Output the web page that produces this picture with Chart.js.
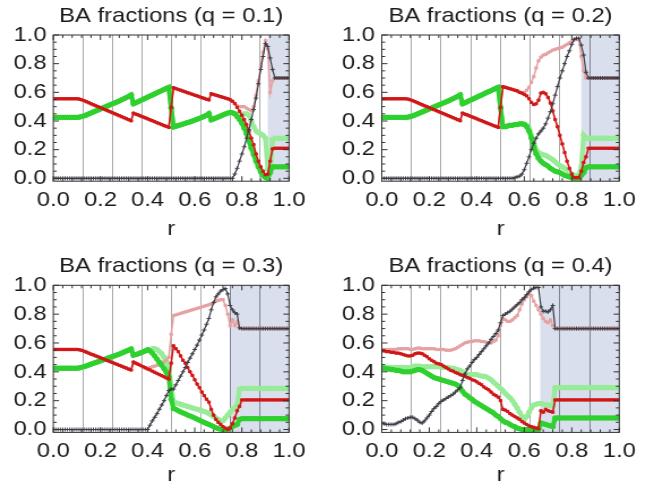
<!DOCTYPE html>
<html>
<head>
<meta charset="utf-8">
<script src="https://cdn.jsdelivr.net/npm/chart.js@4.4.1/dist/chart.umd.min.js"></script>
<style>
  html, body { margin: 0; padding: 0; background: #fff; }
  body { width: 657px; height: 498px; position: relative; overflow: hidden; }
  .panel { position: absolute; width: 290px; transform: scaleX(1.132); transform-origin: 0 0; }
</style>
</head>
<body>
<div class="panel" style="left:0;top:0;height:248px"><canvas id="c0"></canvas></div>
<div class="panel" style="left:328px;top:0;height:248px"><canvas id="c1"></canvas></div>
<div class="panel" style="left:0;top:248px;height:250px"><canvas id="c2"></canvas></div>
<div class="panel" style="left:328px;top:248px;height:250px"><canvas id="c3"></canvas></div>
<script>
const titles = ["BA fractions (q = 0.1)", "BA fractions (q = 0.2)", "BA fractions (q = 0.3)", "BA fractions (q = 0.4)"];
const shadeFrom = [0.91, 0.84, 0.75, 0.667];
const yTicks = [0, 0.2, 0.4, 0.6, 0.8, 1.0];
const xLabelTicks = [0, 0.2, 0.4, 0.6, 0.8, 1.0];
const gridR = [0.125, 0.25, 0.375, 0.5, 0.625, 0.75, 0.875];

const r = [
  0.00, 0.01, 0.02, 0.03, 0.04, 0.05, 0.06, 0.07, 0.08, 0.09,
  0.10, 0.11, 0.12, 0.13, 0.14, 0.15, 0.16, 0.17, 0.18, 0.19,
  0.20, 0.21, 0.22, 0.23, 0.24, 0.25, 0.26, 0.27, 0.28, 0.29,
  0.30, 0.31, 0.32, 0.33, 0.34, 0.35, 0.36, 0.37, 0.38, 0.39,
  0.40, 0.41, 0.42, 0.43, 0.44, 0.45, 0.46, 0.47, 0.48, 0.49,
  0.50, 0.51, 0.52, 0.53, 0.54, 0.55, 0.56, 0.57, 0.58, 0.59,
  0.60, 0.61, 0.62, 0.63, 0.64, 0.65, 0.66, 0.67, 0.68, 0.69,
  0.70, 0.71, 0.72, 0.73, 0.74, 0.75, 0.76, 0.77, 0.78, 0.79,
  0.80, 0.81, 0.82, 0.83, 0.84, 0.85, 0.86, 0.87, 0.88, 0.89,
  0.90, 0.91, 0.92, 0.93, 0.94, 0.95, 0.96, 0.97, 0.98, 0.99,
  1.00
];

// q = 0.1
const red1 = [
  0.555, 0.555, 0.555, 0.555, 0.555, 0.555, 0.555, 0.555, 0.555, 0.555,
  0.555, 0.553, 0.548, 0.542, 0.535, 0.528, 0.520, 0.513, 0.506, 0.500,
  0.493, 0.486, 0.479, 0.472, 0.465, 0.458, 0.451, 0.444, 0.437, 0.430,
  0.423, 0.416, 0.409, 0.402, 0.455, 0.448, 0.442, 0.435, 0.428, 0.422,
  0.415, 0.408, 0.402, 0.395, 0.388, 0.382, 0.375, 0.368, 0.362, 0.355,
  0.495, 0.632, 0.626, 0.620, 0.615, 0.609, 0.603, 0.597, 0.592, 0.586,
  0.580, 0.575, 0.569, 0.563, 0.558, 0.552, 0.547, 0.590, 0.585, 0.580,
  0.575, 0.570, 0.565, 0.560, 0.555, 0.548, 0.538, 0.522, 0.495, 0.468,
  0.440, 0.410, 0.375, 0.330, 0.280, 0.235, 0.170, 0.120, 0.080, 0.050,
  0.025, 0.030, 0.120, 0.205, 0.210, 0.210, 0.210, 0.210, 0.210, 0.210,
  0.210
];
const pink1 = [
  0.555, 0.555, 0.555, 0.555, 0.555, 0.555, 0.555, 0.555, 0.555, 0.555,
  0.555, 0.553, 0.548, 0.542, 0.535, 0.528, 0.520, 0.513, 0.506, 0.500,
  0.493, 0.486, 0.479, 0.472, 0.465, 0.458, 0.451, 0.444, 0.437, 0.430,
  0.423, 0.416, 0.409, 0.402, 0.455, 0.448, 0.442, 0.435, 0.428, 0.422,
  0.415, 0.408, 0.402, 0.395, 0.388, 0.382, 0.375, 0.368, 0.362, 0.355,
  0.495, 0.632, 0.626, 0.620, 0.615, 0.609, 0.603, 0.597, 0.592, 0.586,
  0.580, 0.575, 0.569, 0.563, 0.558, 0.552, 0.547, 0.590, 0.585, 0.580,
  0.575, 0.570, 0.565, 0.560, 0.555, 0.548, 0.538, 0.522, 0.505, 0.500,
  0.500, 0.500, 0.490, 0.480, 0.470, 0.500, 0.580, 0.680, 0.780, 0.880,
  0.960, 0.900, 0.600, 0.680, 0.700, 0.700, 0.700, 0.700, 0.700, 0.700,
  0.700
];
const green1 = [
  0.425, 0.425, 0.425, 0.425, 0.425, 0.425, 0.425, 0.425, 0.425, 0.425,
  0.425, 0.427, 0.431, 0.436, 0.442, 0.449, 0.456, 0.463, 0.470, 0.477,
  0.484, 0.491, 0.498, 0.505, 0.512, 0.519, 0.526, 0.533, 0.540, 0.548,
  0.556, 0.564, 0.572, 0.582, 0.520, 0.527, 0.535, 0.543, 0.550, 0.558,
  0.566, 0.574, 0.581, 0.589, 0.597, 0.605, 0.612, 0.620, 0.628, 0.635,
  0.490, 0.358, 0.363, 0.368, 0.373, 0.378, 0.384, 0.389, 0.394, 0.400,
  0.406, 0.412, 0.418, 0.425, 0.432, 0.440, 0.452, 0.408, 0.415, 0.421,
  0.428, 0.435, 0.442, 0.449, 0.455, 0.460, 0.457, 0.450, 0.430, 0.410,
  0.385, 0.350, 0.310, 0.260, 0.210, 0.165, 0.120, 0.080, 0.045, 0.020,
  0.005, 0, 0.040, 0.080, 0.080, 0.080, 0.080, 0.080, 0.080, 0.080,
  0.080
];
const lightGreen1 = [
  0.425, 0.425, 0.425, 0.425, 0.425, 0.425, 0.425, 0.425, 0.425, 0.425,
  0.425, 0.427, 0.431, 0.436, 0.442, 0.449, 0.456, 0.463, 0.470, 0.477,
  0.484, 0.491, 0.498, 0.505, 0.512, 0.519, 0.526, 0.533, 0.540, 0.548,
  0.556, 0.564, 0.572, 0.582, 0.520, 0.527, 0.535, 0.543, 0.550, 0.558,
  0.566, 0.574, 0.581, 0.589, 0.597, 0.605, 0.612, 0.620, 0.628, 0.635,
  0.490, 0.358, 0.363, 0.368, 0.373, 0.378, 0.384, 0.389, 0.394, 0.400,
  0.406, 0.412, 0.418, 0.425, 0.432, 0.440, 0.452, 0.408, 0.415, 0.421,
  0.428, 0.435, 0.442, 0.449, 0.455, 0.460, 0.457, 0.450, 0.440, 0.440,
  0.445, 0.450, 0.450, 0.440, 0.400, 0.360, 0.330, 0.320, 0.310, 0.300,
  0.280, 0.060, 0.050, 0.270, 0.280, 0.280, 0.280, 0.280, 0.280, 0.280,
  0.280
];
const black1 = [
  0, 0, 0, 0, 0, 0, 0, 0, 0, 0,
  0, 0, 0, 0, 0, 0, 0, 0, 0, 0,
  0, 0, 0, 0, 0, 0, 0, 0, 0, 0,
  0, 0, 0, 0, 0, 0, 0, 0, 0, 0,
  0, 0, 0, 0, 0, 0, 0, 0, 0, 0,
  0, 0, 0, 0, 0, 0, 0, 0, 0, 0,
  0, 0, 0, 0, 0, 0, 0, 0, 0, 0,
  0, 0, 0, 0, 0, 0, 0, 0.030, 0.070, 0.120,
  0.170, 0.220, 0.280, 0.340, 0.410, 0.480, 0.560, 0.660, 0.760, 0.850,
  0.940, 0.920, 0.840, 0.760, 0.700, 0.700, 0.700, 0.700, 0.700, 0.700,
  0.700
];

// q = 0.2
const red2 = [
  0.555, 0.555, 0.555, 0.555, 0.555, 0.555, 0.555, 0.555, 0.555, 0.555,
  0.555, 0.553, 0.548, 0.542, 0.535, 0.528, 0.520, 0.513, 0.506, 0.500,
  0.493, 0.486, 0.479, 0.472, 0.465, 0.458, 0.451, 0.444, 0.437, 0.430,
  0.423, 0.416, 0.409, 0.402, 0.455, 0.448, 0.442, 0.435, 0.428, 0.422,
  0.415, 0.408, 0.402, 0.395, 0.388, 0.382, 0.375, 0.368, 0.362, 0.355,
  0.495, 0.640, 0.635, 0.630, 0.625, 0.620, 0.615, 0.610, 0.600, 0.595,
  0.585, 0.575, 0.555, 0.530, 0.515, 0.520, 0.545, 0.595, 0.600, 0.590,
  0.565, 0.525, 0.470, 0.410, 0.360, 0.300, 0.240, 0.180, 0.120, 0.070,
  0.030, 0.005, 0.005, 0.005, 0.050, 0.110, 0.150, 0.210, 0.210, 0.210,
  0.210, 0.210, 0.210, 0.210, 0.210, 0.210, 0.210, 0.210, 0.210, 0.210,
  0.210
];
const pink2 = [
  0.555, 0.555, 0.555, 0.555, 0.555, 0.555, 0.555, 0.555, 0.555, 0.555,
  0.555, 0.553, 0.548, 0.542, 0.535, 0.528, 0.520, 0.513, 0.506, 0.500,
  0.493, 0.486, 0.479, 0.472, 0.465, 0.458, 0.451, 0.444, 0.437, 0.430,
  0.423, 0.416, 0.409, 0.402, 0.455, 0.448, 0.442, 0.435, 0.428, 0.422,
  0.415, 0.408, 0.402, 0.395, 0.388, 0.382, 0.375, 0.368, 0.362, 0.355,
  0.495, 0.640, 0.635, 0.630, 0.625, 0.620, 0.615, 0.610, 0.600, 0.595,
  0.600, 0.615, 0.635, 0.670, 0.710, 0.770, 0.820, 0.845, 0.860, 0.865,
  0.875, 0.885, 0.895, 0.900, 0.905, 0.910, 0.915, 0.925, 0.935, 0.945,
  0.955, 0.965, 0.970, 0.965, 0.850, 0.750, 0.700, 0.700, 0.700, 0.700,
  0.700, 0.700, 0.700, 0.700, 0.700, 0.700, 0.700, 0.700, 0.700, 0.700,
  0.700
];
const green2 = [
  0.425, 0.425, 0.425, 0.425, 0.425, 0.425, 0.425, 0.425, 0.425, 0.425,
  0.425, 0.427, 0.431, 0.436, 0.442, 0.449, 0.456, 0.463, 0.470, 0.477,
  0.484, 0.491, 0.498, 0.505, 0.512, 0.519, 0.526, 0.533, 0.540, 0.548,
  0.556, 0.564, 0.572, 0.582, 0.520, 0.527, 0.535, 0.543, 0.550, 0.558,
  0.566, 0.574, 0.581, 0.589, 0.597, 0.605, 0.612, 0.620, 0.628, 0.635,
  0.490, 0.360, 0.360, 0.365, 0.370, 0.370, 0.375, 0.375, 0.380, 0.380,
  0.375, 0.360, 0.330, 0.280, 0.220, 0.170, 0.140, 0.120, 0.105, 0.095,
  0.085, 0.070, 0.060, 0.050, 0.045, 0.040, 0.030, 0.020, 0.015, 0.010,
  0.005, 0, 0, 0, 0.020, 0.040, 0.075, 0.080, 0.080, 0.080,
  0.080, 0.080, 0.080, 0.080, 0.080, 0.080, 0.080, 0.080, 0.080, 0.080,
  0.080
];
const lightGreen2 = [
  0.425, 0.425, 0.425, 0.425, 0.425, 0.425, 0.425, 0.425, 0.425, 0.425,
  0.425, 0.427, 0.431, 0.436, 0.442, 0.449, 0.456, 0.463, 0.470, 0.477,
  0.484, 0.491, 0.498, 0.505, 0.512, 0.519, 0.526, 0.533, 0.540, 0.548,
  0.556, 0.564, 0.572, 0.582, 0.520, 0.527, 0.535, 0.543, 0.550, 0.558,
  0.566, 0.574, 0.581, 0.589, 0.597, 0.605, 0.612, 0.620, 0.628, 0.635,
  0.490, 0.360, 0.360, 0.365, 0.370, 0.370, 0.375, 0.375, 0.380, 0.380,
  0.380, 0.370, 0.350, 0.300, 0.250, 0.200, 0.180, 0.170, 0.165, 0.160,
  0.150, 0.140, 0.130, 0.115, 0.100, 0.090, 0.080, 0.070, 0.055, 0.040,
  0.030, 0.020, 0.020, 0.025, 0.080, 0.300, 0.280, 0.280, 0.280, 0.280,
  0.280, 0.280, 0.280, 0.280, 0.280, 0.280, 0.280, 0.280, 0.280, 0.280,
  0.280
];
const black2 = [
  0, 0, 0, 0, 0, 0, 0, 0, 0, 0,
  0, 0, 0, 0, 0, 0, 0, 0, 0, 0,
  0, 0, 0, 0, 0, 0, 0, 0, 0, 0,
  0, 0, 0, 0, 0, 0, 0, 0, 0, 0,
  0, 0, 0, 0, 0, 0, 0, 0, 0, 0,
  0, 0, 0, 0, 0, 0, 0.005, 0.010, 0.015, 0.030,
  0.060, 0.105, 0.150, 0.200, 0.245, 0.280, 0.310, 0.330, 0.350, 0.380,
  0.420, 0.465, 0.520, 0.580, 0.640, 0.700, 0.750, 0.800, 0.850, 0.890,
  0.935, 0.970, 0.977, 0.977, 0.930, 0.860, 0.740, 0.700, 0.700, 0.700,
  0.700, 0.700, 0.700, 0.700, 0.700, 0.700, 0.700, 0.700, 0.700, 0.700,
  0.700
];

// q = 0.3
const red3 = [
  0.555, 0.555, 0.555, 0.555, 0.555, 0.555, 0.555, 0.555, 0.555, 0.555,
  0.555, 0.553, 0.549, 0.543, 0.537, 0.530, 0.523, 0.517, 0.510, 0.504,
  0.497, 0.491, 0.484, 0.478, 0.471, 0.465, 0.458, 0.452, 0.445, 0.439,
  0.432, 0.426, 0.419, 0.413, 0.468, 0.460, 0.452, 0.444, 0.436, 0.428,
  0.420, 0.413, 0.405, 0.397, 0.389, 0.381, 0.373, 0.365, 0.357, 0.350,
  0.460, 0.580, 0.560, 0.540, 0.510, 0.480, 0.460, 0.430, 0.400, 0.375,
  0.345, 0.315, 0.290, 0.260, 0.235, 0.210, 0.190, 0.140, 0.100, 0.070,
  0.050, 0.035, 0.020, 0.010, 0, 0.010, 0.040, 0.080, 0.130, 0.160,
  0.205, 0.205, 0.205, 0.205, 0.205, 0.205, 0.205, 0.205, 0.205, 0.205,
  0.205, 0.205, 0.205, 0.205, 0.205, 0.205, 0.205, 0.205, 0.205, 0.205,
  0.205
];
const pink3 = [
  0.555, 0.555, 0.555, 0.555, 0.555, 0.555, 0.555, 0.555, 0.555, 0.555,
  0.555, 0.553, 0.549, 0.543, 0.537, 0.530, 0.523, 0.517, 0.510, 0.504,
  0.497, 0.491, 0.484, 0.478, 0.471, 0.465, 0.458, 0.452, 0.445, 0.439,
  0.432, 0.426, 0.419, 0.413, 0.468, 0.460, 0.452, 0.444, 0.436, 0.428,
  0.420, 0.430, 0.435, 0.440, 0.445, 0.450, 0.460, 0.470, 0.480, 0.500,
  0.660, 0.790, 0.795, 0.800, 0.805, 0.810, 0.815, 0.820, 0.825, 0.830,
  0.835, 0.840, 0.845, 0.850, 0.855, 0.860, 0.865, 0.870, 0.880, 0.890,
  0.895, 0.900, 0.900, 0.860, 0.800, 0.720, 0.760, 0.720, 0.750, 0.700,
  0.700, 0.700, 0.700, 0.700, 0.700, 0.700, 0.700, 0.700, 0.700, 0.700,
  0.700, 0.700, 0.700, 0.700, 0.700, 0.700, 0.700, 0.700, 0.700, 0.700,
  0.700
];
const green3 = [
  0.425, 0.425, 0.425, 0.425, 0.425, 0.425, 0.425, 0.425, 0.425, 0.425,
  0.425, 0.427, 0.431, 0.436, 0.441, 0.447, 0.453, 0.459, 0.465, 0.470,
  0.476, 0.482, 0.488, 0.494, 0.500, 0.505, 0.511, 0.517, 0.523, 0.530,
  0.537, 0.544, 0.551, 0.558, 0.515, 0.520, 0.525, 0.532, 0.538, 0.545,
  0.553, 0.545, 0.530, 0.510, 0.488, 0.466, 0.445, 0.422, 0.395, 0.365,
  0.210, 0.145, 0.140, 0.130, 0.122, 0.115, 0.108, 0.100, 0.094, 0.087,
  0.080, 0.072, 0.064, 0.056, 0.049, 0.042, 0.035, 0.028, 0.020, 0.012,
  0.006, 0.002, 0, 0, 0, 0.010, 0.020, 0.030, 0.035, 0.070,
  0.075, 0.075, 0.075, 0.075, 0.075, 0.075, 0.075, 0.075, 0.075, 0.075,
  0.075, 0.075, 0.075, 0.075, 0.075, 0.075, 0.075, 0.075, 0.075, 0.075,
  0.075
];
const lightGreen3 = [
  0.425, 0.425, 0.425, 0.425, 0.425, 0.425, 0.425, 0.425, 0.425, 0.425,
  0.425, 0.427, 0.431, 0.436, 0.441, 0.447, 0.453, 0.459, 0.465, 0.470,
  0.476, 0.482, 0.488, 0.494, 0.500, 0.505, 0.511, 0.517, 0.523, 0.530,
  0.537, 0.544, 0.551, 0.558, 0.515, 0.520, 0.525, 0.532, 0.538, 0.545,
  0.553, 0.555, 0.560, 0.560, 0.555, 0.540, 0.525, 0.500, 0.470, 0.430,
  0.300, 0.190, 0.185, 0.180, 0.175, 0.170, 0.165, 0.160, 0.155, 0.150,
  0.145, 0.140, 0.135, 0.130, 0.125, 0.120, 0.110, 0.100, 0.090, 0.080,
  0.070, 0.060, 0.060, 0.080, 0.100, 0.120, 0.140, 0.150, 0.170, 0.280,
  0.285, 0.285, 0.285, 0.285, 0.285, 0.285, 0.285, 0.285, 0.285, 0.285,
  0.285, 0.285, 0.285, 0.285, 0.285, 0.285, 0.285, 0.285, 0.285, 0.285,
  0.285
];
const black3 = [
  0, 0, 0, 0, 0, 0, 0, 0, 0, 0,
  0, 0, 0, 0, 0, 0, 0, 0, 0, 0,
  0, 0, 0, 0, 0, 0, 0, 0, 0, 0,
  0, 0, 0, 0, 0, 0, 0, 0, 0, 0,
  0, 0.030, 0.060, 0.085, 0.110, 0.140, 0.170, 0.200, 0.235, 0.270,
  0.280, 0.280, 0.310, 0.340, 0.370, 0.400, 0.430, 0.465, 0.495, 0.525,
  0.555, 0.585, 0.620, 0.655, 0.690, 0.730, 0.770, 0.830, 0.880, 0.920,
  0.940, 0.960, 0.970, 0.977, 0.940, 0.860, 0.830, 0.810, 0.800, 0.705,
  0.700, 0.700, 0.700, 0.700, 0.700, 0.700, 0.700, 0.700, 0.700, 0.700,
  0.700, 0.700, 0.700, 0.700, 0.700, 0.700, 0.700, 0.700, 0.700, 0.700,
  0.700
];

// q = 0.4
const red4 = [
  0.545, 0.545, 0.540, 0.540, 0.535, 0.535, 0.530, 0.530, 0.525, 0.520,
  0.515, 0.510, 0.510, 0.515, 0.525, 0.530, 0.530, 0.525, 0.515, 0.505,
  0.490, 0.480, 0.470, 0.460, 0.455, 0.450, 0.440, 0.430, 0.420, 0.410,
  0.405, 0.395, 0.390, 0.380, 0.375, 0.370, 0.360, 0.355, 0.345, 0.340,
  0.330, 0.320, 0.310, 0.295, 0.285, 0.275, 0.260, 0.245, 0.235, 0.225,
  0.200, 0.140, 0.135, 0.125, 0.110, 0.100, 0.090, 0.080, 0.070, 0.055,
  0.045, 0.035, 0.025, 0.020, 0.015, 0.010, 0.005, 0.130, 0.120, 0.140,
  0.130, 0.125, 0.120, 0.205, 0.205, 0.205, 0.205, 0.205, 0.205, 0.205,
  0.205, 0.205, 0.205, 0.205, 0.205, 0.205, 0.205, 0.205, 0.205, 0.205,
  0.205, 0.205, 0.205, 0.205, 0.205, 0.205, 0.205, 0.205, 0.205, 0.205,
  0.205
];
const pink4 = [
  0.555, 0.555, 0.555, 0.555, 0.555, 0.555, 0.555, 0.560, 0.560, 0.560,
  0.560, 0.560, 0.555, 0.555, 0.560, 0.565, 0.565, 0.560, 0.560, 0.560,
  0.560, 0.560, 0.560, 0.555, 0.555, 0.555, 0.555, 0.550, 0.550, 0.550,
  0.555, 0.560, 0.570, 0.580, 0.590, 0.600, 0.605, 0.610, 0.610, 0.615,
  0.615, 0.615, 0.610, 0.610, 0.605, 0.600, 0.600, 0.610, 0.620, 0.650,
  0.720, 0.770, 0.760, 0.750, 0.750, 0.760, 0.775, 0.790, 0.830, 0.870,
  0.900, 0.920, 0.940, 0.930, 0.890, 0.860, 0.830, 0.800, 0.770, 0.750,
  0.740, 0.760, 0.720, 0.700, 0.700, 0.700, 0.700, 0.700, 0.700, 0.700,
  0.700, 0.700, 0.700, 0.700, 0.700, 0.700, 0.700, 0.700, 0.700, 0.700,
  0.700, 0.700, 0.700, 0.700, 0.700, 0.700, 0.700, 0.700, 0.700, 0.700,
  0.700
];
const green4 = [
  0.425, 0.425, 0.420, 0.420, 0.415, 0.415, 0.410, 0.410, 0.405, 0.400,
  0.400, 0.400, 0.400, 0.405, 0.410, 0.415, 0.415, 0.410, 0.400, 0.390,
  0.380, 0.370, 0.360, 0.355, 0.350, 0.345, 0.340, 0.335, 0.330, 0.325,
  0.320, 0.315, 0.305, 0.290, 0.265, 0.245, 0.235, 0.220, 0.210, 0.195,
  0.185, 0.175, 0.165, 0.155, 0.145, 0.135, 0.125, 0.115, 0.100, 0.090,
  0.075, 0.060, 0.050, 0.045, 0.035, 0.025, 0.020, 0.010, 0.005, 0,
  0, 0, 0, 0, 0, 0, 0, 0.045, 0.040, 0.035,
  0.030, 0.025, 0.020, 0.080, 0.080, 0.080, 0.080, 0.080, 0.080, 0.080,
  0.080, 0.080, 0.080, 0.080, 0.080, 0.080, 0.080, 0.080, 0.080, 0.080,
  0.080, 0.080, 0.080, 0.080, 0.080, 0.080, 0.080, 0.080, 0.080, 0.080,
  0.080
];
const lightGreen4 = [
  0.430, 0.430, 0.430, 0.430, 0.430, 0.430, 0.430, 0.430, 0.430, 0.430,
  0.430, 0.430, 0.430, 0.435, 0.440, 0.440, 0.440, 0.435, 0.435, 0.435,
  0.435, 0.435, 0.435, 0.435, 0.435, 0.435, 0.430, 0.430, 0.430, 0.425,
  0.425, 0.420, 0.415, 0.410, 0.400, 0.390, 0.385, 0.380, 0.380, 0.380,
  0.380, 0.375, 0.370, 0.370, 0.365, 0.355, 0.345, 0.330, 0.315, 0.300,
  0.285, 0.270, 0.250, 0.235, 0.220, 0.200, 0.175, 0.150, 0.120, 0.090,
  0.070, 0.090, 0.120, 0.150, 0.170, 0.175, 0.180, 0.180, 0.175, 0.170,
  0.170, 0.165, 0.165, 0.290, 0.290, 0.290, 0.290, 0.290, 0.290, 0.290,
  0.290, 0.290, 0.290, 0.290, 0.290, 0.290, 0.290, 0.290, 0.290, 0.290,
  0.290, 0.290, 0.290, 0.290, 0.290, 0.290, 0.290, 0.290, 0.290, 0.290,
  0.290
];
const black4 = [
  0.040, 0.040, 0.035, 0.035, 0.035, 0.035, 0.040, 0.050, 0.055, 0.065,
  0.075, 0.080, 0.085, 0.085, 0.075, 0.065, 0.050, 0.045, 0.060, 0.080,
  0.100, 0.125, 0.145, 0.160, 0.180, 0.195, 0.205, 0.215, 0.225, 0.235,
  0.245, 0.260, 0.275, 0.290, 0.340, 0.385, 0.420, 0.440, 0.465, 0.485,
  0.500, 0.520, 0.540, 0.560, 0.580, 0.600, 0.625, 0.645, 0.665, 0.690,
  0.740, 0.790, 0.800, 0.810, 0.820, 0.835, 0.850, 0.865, 0.880, 0.900,
  0.915, 0.935, 0.955, 0.970, 0.980, 0.985, 0.985, 0.850, 0.820, 0.820,
  0.815, 0.830, 0.860, 0.700, 0.700, 0.700, 0.700, 0.700, 0.700, 0.700,
  0.700, 0.700, 0.700, 0.700, 0.700, 0.700, 0.700, 0.700, 0.700, 0.700,
  0.700, 0.700, 0.700, 0.700, 0.700, 0.700, 0.700, 0.700, 0.700, 0.700,
  0.700
];

const FONT = "'Liberation Sans', Arial, Helvetica, sans-serif";
const INK = "#1a1a1a";

// plot-box geometry for each panel (unscaled canvas px)
const boxes = [
  { yw: 47.1, right: 34.7, tTop: 3.4, tBot: 6.4, xh: 66.8, xPad: 6, rBot: 6.6 },
  { yw: 47.5, right: 32.7, tTop: 3.4, tBot: 6.4, xh: 66.8, xPad: 6, rBot: 6.6 },
  { yw: 47.1, right: 34.7, tTop: 5.4, tBot: 6.7, xh: 65.6, xPad: 6, rBot: 9.7 },
  { yw: 47.5, right: 32.7, tTop: 5.4, tBot: 6.7, xh: 65.6, xPad: 6, rBot: 9.7 },
];

const seriesSets = [
  { red: red1, pink: pink1, green: green1, lightGreen: lightGreen1, black: black1 },
  { red: red2, pink: pink2, green: green2, lightGreen: lightGreen2, black: black2 },
  { red: red3, pink: pink3, green: green3, lightGreen: lightGreen3, black: black3 },
  { red: red4, pink: pink4, green: green4, lightGreen: lightGreen4, black: black4 },
];

// shaded band, frame and inward frame ticks
const framePlugin = {
  id: "frame",
  beforeDraw(chart, args, opts) {
    const { ctx, chartArea: a, scales } = chart;
    const sx = scales.x.getPixelForValue(opts.shadeFrom);
    ctx.save();
    ctx.fillStyle = "#d9dfed";
    ctx.fillRect(sx, a.top, a.right - sx, a.bottom - a.top);
    ctx.restore();
  },
  afterDraw(chart) {
    const { ctx, chartArea: a, scales } = chart;
    ctx.save();
    ctx.strokeStyle = "#333";
    ctx.lineWidth = 1;
    ctx.beginPath();
    for (let i = 0; i <= 25; i++) {
      const px = scales.x.getPixelForValue(i * 0.04);
      const len = i % 5 === 0 ? 5 : 3;
      ctx.moveTo(px, a.bottom); ctx.lineTo(px, a.bottom - len);
      ctx.moveTo(px, a.top); ctx.lineTo(px, a.top + len);
    }
    for (let i = 0; i <= 20; i++) {
      const py = scales.y.getPixelForValue(i * 0.05);
      const len = i % 4 === 0 ? 5 : 3;
      ctx.moveTo(a.left, py); ctx.lineTo(a.left + len, py);
      ctx.moveTo(a.right, py); ctx.lineTo(a.right - len, py);
    }
    ctx.stroke();
    ctx.strokeRect(a.left, a.top, a.right - a.left, a.bottom - a.top);
    ctx.restore();
  },
};

function series(label, ys, color, width, style, radius) {
  return {
    label,
    data: r.map((x, i) => ({ x, y: ys[i] })),
    borderColor: color,
    backgroundColor: color,
    borderWidth: width,
    pointStyle: style,
    pointRadius: radius,
    pointBorderWidth: 1,
    tension: 0,
  };
}

seriesSets.forEach((s, k) => {
  const box = boxes[k];
  const shade = shadeFrom[k];
  new Chart(document.getElementById("c" + k), {
    type: "line",
    data: {
      datasets: [
        series("black", s.black, "#3d3d47", 1.2, "cross", 2),
        series("red", s.red, "#d01818", 1.6, "rect", 1.6),
        series("green", s.green, "#2fd02f", 4.2, "circle", 2.2),
        series("pink", s.pink, "#e6a2a2", 1.6, "rect", 1.6),
        series("light green", s.lightGreen, "#98ec98", 4.2, "circle", 2.2),
      ],
    },
    options: {
      responsive: true,
      maintainAspectRatio: false,
      animation: false,
      events: [],
      layout: { padding: { left: 0, right: box.right, top: 0, bottom: 0 } },
      plugins: {
        legend: { display: false },
        tooltip: { enabled: false },
        title: {
          display: true,
          fullSize: false,
          text: titles[k],
          color: INK,
          font: { family: FONT, size: 21, weight: "normal" },
          padding: { top: box.tTop, bottom: box.tBot },
        },
        frame: { shadeFrom: shade },
      },
      scales: {
        x: {
          type: "linear",
          min: 0,
          max: 1,
          afterBuildTicks: (sc) => {
            sc.ticks = [0, 0.125, 0.2, 0.25, 0.375, 0.4, 0.5, 0.6, 0.625, 0.75, 0.8, 0.875, 1].map((v) => ({ value: v }));
          },
          afterFit: (sc) => { sc.height = box.xh; },
          ticks: {
            autoSkip: false,
            maxRotation: 0,
            padding: box.xPad,
            color: INK,
            font: { family: FONT, size: 21 },
            callback: (v) => (xLabelTicks.includes(v) ? v.toFixed(1) : ""),
          },
          grid: {
            drawTicks: false,
            lineWidth: 1,
            color: (c) => {
              const v = c.tick ? c.tick.value : null;
              if (!gridR.includes(v)) return "rgba(0,0,0,0)";
              return v >= shade ? "#7f8593" : "#a9a9a9";
            },
          },
          border: { display: false },
          title: {
            display: true,
            text: "r",
            color: INK,
            font: { family: FONT, size: 21 },
            padding: { top: 0, bottom: box.rBot },
          },
        },
        y: {
          type: "linear",
          min: -0.02,
          max: 1,
          afterBuildTicks: (sc) => { sc.ticks = yTicks.map((v) => ({ value: v })); },
          afterFit: (sc) => { sc.width = box.yw; },
          ticks: {
            padding: 6,
            color: INK,
            font: { family: FONT, size: 21 },
            callback: (v) => v.toFixed(1),
          },
          grid: { display: false, drawTicks: false },
          border: { display: false },
        },
      },
    },
    plugins: [framePlugin],
  });
});
</script>
</body>
</html>
